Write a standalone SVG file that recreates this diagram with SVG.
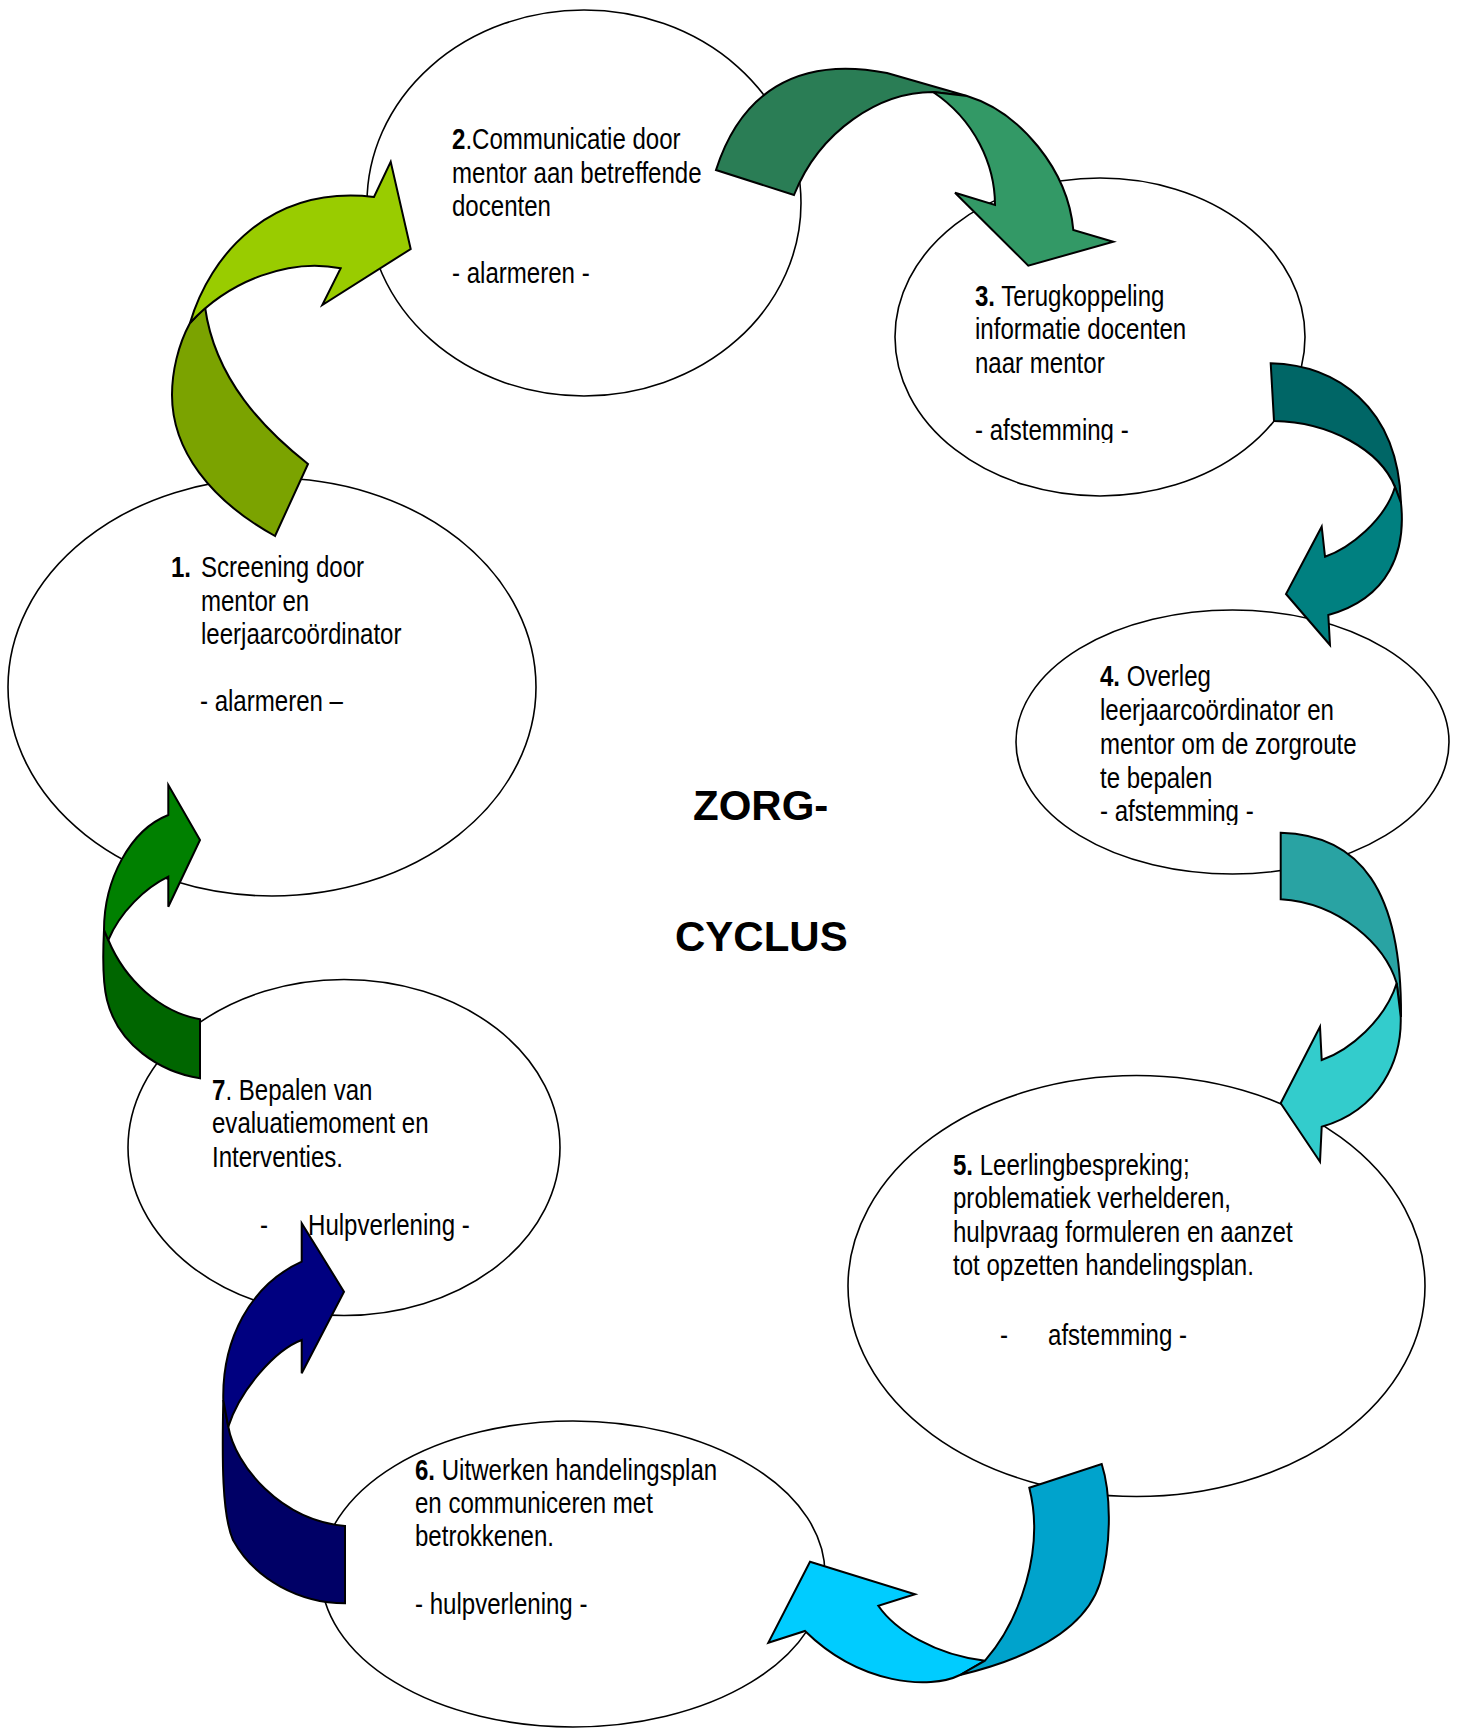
<svg xmlns="http://www.w3.org/2000/svg" width="1457" height="1729" viewBox="0 0 1457 1729">
<style>
.node ellipse{fill:#fff;stroke:#000;stroke-width:1.6}
.t{font-family:"Liberation Sans",Arial,sans-serif;font-size:29px;fill:#000}
.b{font-weight:bold}
.title{font-family:"Liberation Sans",Arial,sans-serif;font-size:42px;font-weight:bold;fill:#000}
.arr path{stroke:#000;stroke-width:2;stroke-linejoin:miter}
</style>
<defs>
<clipPath id="c3"><rect x="900" y="250" width="400" height="193"/></clipPath>
<clipPath id="c4"><rect x="1050" y="640" width="400" height="185"/></clipPath>
</defs>
<rect width="1457" height="1729" fill="#fff"/>

<g id="node1" class="node">
<ellipse cx="272" cy="687" rx="264" ry="209"/>
<text class="t" transform="translate(171,0) scale(0.83,1)"><tspan class="b" x="0" y="577">1.</tspan><tspan x="36.1" y="577">Screening door</tspan><tspan x="36.1" y="611">mentor en</tspan><tspan x="36.1" y="644.5">leerjaarcoördinator</tspan><tspan x="34.9" y="711">- alarmeren –</tspan></text>
</g>
<g id="node2" class="node">
<ellipse cx="584" cy="203" rx="217" ry="193"/>
<text class="t" transform="translate(452,0) scale(0.83,1)"><tspan class="b" x="0" y="149.5">2</tspan><tspan>.Communicatie door</tspan><tspan x="0" y="183">mentor aan betreffende</tspan><tspan x="0" y="216.5">docenten</tspan><tspan x="0" y="283.5">- alarmeren -</tspan></text>
</g>
<g id="node3" class="node">
<ellipse cx="1100" cy="337" rx="205" ry="159"/>
<g clip-path="url(#c3)">
<text class="t" transform="translate(975,0) scale(0.83,1)"><tspan class="b" x="0" y="306">3.</tspan><tspan> Terugkoppeling</tspan><tspan x="0" y="339.5">informatie docenten</tspan><tspan x="0" y="373">naar mentor</tspan><tspan x="0" y="440">- afstemming -</tspan></text>
</g>
</g>
<g id="node4" class="node">
<ellipse cx="1232.5" cy="742" rx="216.5" ry="132"/>
<g clip-path="url(#c4)">
<text class="t" transform="translate(1100,0) scale(0.83,1)"><tspan class="b" x="0" y="686.5">4.</tspan><tspan> Overleg</tspan><tspan x="0" y="720.5">leerjaarcoördinator en</tspan><tspan x="0" y="754.5">mentor om de zorgroute</tspan><tspan x="0" y="788">te bepalen</tspan><tspan x="0" y="821.5">- afstemming -</tspan></text>
</g>
</g>
<g id="node5" class="node">
<ellipse cx="1136.5" cy="1286" rx="288.5" ry="210.5"/>
<text class="t" transform="translate(953,0) scale(0.83,1)"><tspan class="b" x="0" y="1175">5.</tspan><tspan> Leerlingbespreking;</tspan><tspan x="0" y="1208.5">problematiek verhelderen,</tspan><tspan x="0" y="1242">hulpvraag formuleren en aanzet</tspan><tspan x="0" y="1275.5">tot opzetten handelingsplan.</tspan><tspan x="56.6" y="1345">-</tspan><tspan x="114.5" y="1345">afstemming -</tspan></text>
</g>
<g id="node6" class="node">
<ellipse cx="573" cy="1574" rx="252" ry="153"/>
<text class="t" transform="translate(415,0) scale(0.83,1)"><tspan class="b" x="0" y="1480.5">6.</tspan><tspan> Uitwerken handelingsplan</tspan><tspan x="0" y="1513.5">en communiceren met</tspan><tspan x="0" y="1546.5">betrokkenen.</tspan><tspan x="0" y="1614.5">- hulpverlening -</tspan></text>
</g>
<g id="node7" class="node">
<ellipse cx="344" cy="1147.5" rx="216" ry="168"/>
<text class="t" transform="translate(212,0) scale(0.83,1)"><tspan class="b" x="0" y="1100.5">7</tspan><tspan>. Bepalen van</tspan><tspan x="0" y="1133.5">evaluatiemoment en</tspan><tspan x="0" y="1167">Interventies.</tspan><tspan x="57.8" y="1235.5">-</tspan><tspan x="115.7" y="1235.5">Hulpverlening -</tspan></text>
</g>

<g id="title">
<text class="title" x="693" y="820">ZORG-</text>
<text class="title" x="675" y="951">CYCLUS</text>
</g>

<g id="connectors" class="arr">
<g id="arrow1-2">
<path fill="#7BA300" d="M190,323 C178,345 172,372 172,395 C172,450 210,500 275,536 L308,464 C265,430 215,380 205,307 Z"/>
<path fill="#99CC00" d="M190,323 C210,255 270,185 374,197 L390.7,161.7 L410.7,249 L322.3,305 L340.7,268.3 C290,258 230,280 190,323 Z"/>
</g>
<g id="arrow2-3">
<path fill="#2A7D55" d="M716,170 C740,95 795,55 887,73 L967,96 L933,92 C880,92 820,130 794,195 Z"/>
<path fill="#339966" d="M933,92 L967,96 C1020,112 1068,170 1073.3,230 L1113.3,241.7 L1028.3,265.7 L955,192.7 L995,205 C995,165 975,120 933,92 Z"/>
</g>
<g id="arrow3-4">
<path fill="#006666" d="M1270.7,363.3 C1335,365 1398,405 1401,503 L1395,487 C1380,450 1330,422 1274,421 Z"/>
<path fill="#008080" d="M1395,487 L1401,503 C1406,550 1390,598 1328.3,615 L1330,645 L1286,594 L1321.7,526.7 L1325,556.7 C1350,548 1385,520 1395,487 Z"/>
</g>
<g id="arrow4-5">
<path fill="#29A3A3" d="M1280.7,832.7 C1360,835 1402,890 1401,1017 L1396.7,983.3 C1385,945 1340,903 1280.7,899.3 Z"/>
<path fill="#33CCCC" d="M1396.7,983.3 L1400.7,1016.7 C1402,1060 1380,1110 1321.7,1126.7 L1320,1161.7 L1280.7,1103.3 L1320,1026.7 L1321.7,1060 C1350,1050 1385,1020 1396.7,983.3 Z"/>
</g>
<g id="arrow5-6">
<path fill="#00CCFF" d="M985,1660.7 L960,1675 C930,1690 860,1685 805,1631 L768.3,1642.7 L810,1561.7 L915,1594.3 L878.3,1605.7 C895,1630 935,1655 985,1660.7 Z"/>
<path fill="#00A3CC" d="M1029.3,1487.7 L1101.7,1464 C1110,1490 1113,1540 1100,1583 C1085,1630 1030,1658 960,1675 L985,1660.7 C1020,1620 1045,1550 1029.3,1487.7 Z"/>
</g>
<g id="arrow6-7">
<path fill="#000066" d="M345,1526 L345,1603.3 C300,1603 255,1580 233,1540 C222,1515 222,1460 223.3,1400 L228.3,1426.7 C235,1465 280,1520 345,1526 Z"/>
<path fill="#000080" d="M223.3,1400 C222,1340 250,1285 301.7,1261.7 L301.7,1223.3 L344,1291.7 L301.7,1373.3 L301.7,1340 C275,1350 240,1390 228.3,1426.7 Z"/>
</g>
<g id="arrow7-1">
<path fill="#006600" d="M200,1019.3 L200,1078.3 C160,1072 118,1045 107,1000 C102,980 103,950 104,930 L108.3,940 C125,980 160,1012 200,1019.3 Z"/>
<path fill="#008000" d="M104,930 C104,880 130,830 168.3,815 L168.3,785 L200,840 L168.3,906.7 L168.3,876.7 C145,888 120,912 108.3,940 Z"/>
</g>
</g>
</svg>
